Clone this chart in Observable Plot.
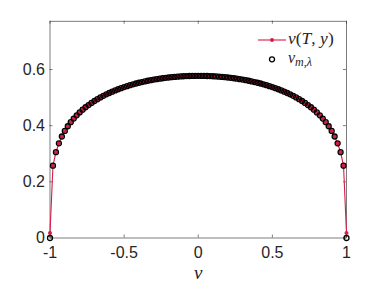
<!DOCTYPE html>
<html><head><meta charset="utf-8">
<script src="https://cdn.jsdelivr.net/npm/d3@7"></script>
<script src="https://cdn.jsdelivr.net/npm/@observablehq/plot@0.6"></script>
<style>html,body{margin:0;padding:0;background:#fff;} svg{display:block;}</style>
</head><body><div id="chart"></div>
<script>
// ---- data ----
const xs = [-1,-0.98,-0.96,-0.94,-0.92,-0.9,-0.88,-0.86,-0.84,-0.82,-0.8,-0.78,-0.76,-0.74,-0.72,-0.7,-0.68,-0.66,-0.64,-0.62,-0.6,-0.58,-0.56,-0.54,-0.52,-0.5,-0.48,-0.46,-0.44,-0.42,-0.4,-0.38,-0.36,-0.34,-0.32,-0.3,-0.28,-0.26,-0.24,-0.22,-0.2,-0.18,-0.16,-0.14,-0.12,-0.1,-0.08,-0.06,-0.04,-0.02,0,0.02,0.04,0.06,0.08,0.1,0.12,0.14,0.16,0.18,0.2,0.22,0.24,0.26,0.28,0.3,0.32,0.34,0.36,0.38,0.4,0.42,0.44,0.46,0.48,0.5,0.52,0.54,0.56,0.58,0.6,0.62,0.64,0.66,0.68,0.7,0.72,0.74,0.76,0.78,0.8,0.82,0.84,0.86,0.88,0.9,0.92,0.94,0.96,0.98,1];
const vTy = [0.018,0.2576,0.3055,0.3373,0.3615,0.3812,0.3979,0.4125,0.4253,0.4368,0.4473,0.4568,0.4655,0.4735,0.4810,0.4879,0.4944,0.5005,0.5061,0.5115,0.5164,0.5211,0.5256,0.5297,0.5336,0.5373,0.5408,0.5441,0.5472,0.5501,0.5528,0.5553,0.5577,0.5599,0.5620,0.5640,0.5657,0.5674,0.5689,0.5703,0.5715,0.5727,0.5737,0.5745,0.5753,0.5760,0.5765,0.5769,0.5772,0.5773,0.5774,0.5773,0.5772,0.5769,0.5765,0.5760,0.5753,0.5745,0.5737,0.5727,0.5715,0.5703,0.5689,0.5674,0.5657,0.5640,0.5620,0.5599,0.5577,0.5553,0.5528,0.5501,0.5472,0.5441,0.5408,0.5373,0.5336,0.5297,0.5256,0.5211,0.5164,0.5115,0.5061,0.5005,0.4944,0.4879,0.4810,0.4735,0.4655,0.4568,0.4473,0.4368,0.4253,0.4125,0.3979,0.3812,0.3615,0.3373,0.3055,0.2576,0.018];
const vML = [0,0.2576,0.3055,0.3373,0.3615,0.3812,0.3979,0.4125,0.4253,0.4368,0.4473,0.4568,0.4655,0.4735,0.4810,0.4879,0.4944,0.5005,0.5061,0.5115,0.5164,0.5211,0.5256,0.5297,0.5336,0.5373,0.5408,0.5441,0.5472,0.5501,0.5528,0.5553,0.5577,0.5599,0.5620,0.5640,0.5657,0.5674,0.5689,0.5703,0.5715,0.5727,0.5737,0.5745,0.5753,0.5760,0.5765,0.5769,0.5772,0.5773,0.5774,0.5773,0.5772,0.5769,0.5765,0.5760,0.5753,0.5745,0.5737,0.5727,0.5715,0.5703,0.5689,0.5674,0.5657,0.5640,0.5620,0.5599,0.5577,0.5553,0.5528,0.5501,0.5472,0.5441,0.5408,0.5373,0.5336,0.5297,0.5256,0.5211,0.5164,0.5115,0.5061,0.5005,0.4944,0.4879,0.4810,0.4735,0.4655,0.4568,0.4473,0.4368,0.4253,0.4125,0.3979,0.3812,0.3615,0.3373,0.3055,0.2576,0];
const xTicks = [-1,-0.5,0,0.5,1];
const xTickLabels = ["-1","-0.5","0","0.5","1"];
const yTicks = [0,0.2,0.4,0.6];
const yTickLabels = ["0","0.2","0.4","0.6"];
const xLabel = "v";
// legend entries as (text, italic) pieces
const legend1 = [["v",true],["(",false],["T",true],[", ",false],["y",true],[")",false]];
const legend2Main = "v";
const legend2Sub = [["m",true],[",",false],["λ",true]];

// ---- layout ----
const W = 382, H = 286, mL = 49.5, mR = 36, mT = 20.7, mB = 48.5;
const fw = W - mL - mR, fh = H - mT - mB;
const red = "#d81b45";
const ink = "#262626";
const sans = "'Liberation Sans', Arial, Helvetica, sans-serif";
const serif = "'Liberation Serif', 'Times New Roman', serif";
const tk = 3;

const data = xs.map((x, i) => ({x, v: vTy[i], vm: vML[i]}));

const plot = Plot.plot({
  width: W, height: H,
  marginLeft: mL, marginRight: mR, marginTop: mT, marginBottom: mB,
  x: {domain: [-1, 1]},
  y: {domain: [0, 0.772]},
  style: {background: "white", color: ink, fontFamily: sans},
  marks: [
    Plot.frame({stroke: ink, strokeWidth: 0.6}),
    Plot.tickX(xTicks, {x: d => d, insetTop: fh - tk, stroke: ink, strokeWidth: 0.6}),
    Plot.tickX(xTicks, {x: d => d, insetBottom: fh - tk, stroke: ink, strokeWidth: 0.6}),
    Plot.tickY(yTicks, {y: d => d, insetRight: fw - tk, stroke: ink, strokeWidth: 0.6}),
    Plot.tickY(yTicks, {y: d => d, insetLeft: fw - tk, stroke: ink, strokeWidth: 0.6}),
    Plot.axisX(xTicks, {tickSize: 0, tickPadding: 9, fontSize: 16, label: null,
      tickFormat: d => xTickLabels[xTicks.indexOf(d)]}),
    Plot.axisY(yTicks, {tickSize: 0, tickPadding: 5, fontSize: 16, label: null,
      tickFormat: d => yTickLabels[yTicks.indexOf(d)]}),
    Plot.text([xLabel], {text: d => d, frameAnchor: "bottom", dy: 34.5, fontStyle: "italic",
      fontFamily: serif, fontSize: 19, lineAnchor: "middle", fill: ink}),
    Plot.line(data, {x: "x", y: "v", stroke: red, strokeWidth: 1.1}),
    Plot.dot(data, {x: "x", y: "v", r: 2, fill: red}),
    Plot.dot(data, {x: "x", y: "vm", r: 2.5, fill: "none", stroke: "black", strokeWidth: 1.3})
  ]
});

// ---- legend (inside the axes, top right) ----
const svg = d3.select(plot);
const g = svg.append("g").attr("text-anchor", "start");
const right = W - mR;
const lx0 = right - 88, lx1 = right - 60, lcx = (lx0 + lx1) / 2;
const row1 = 40, row2 = 59.3;
g.append("line").attr("x1", lx0).attr("x2", lx1).attr("y1", row1).attr("y2", row1)
  .attr("stroke", red).attr("stroke-width", 1.1);
g.append("circle").attr("cx", lcx).attr("cy", row1).attr("r", 2).attr("fill", red);
g.append("circle").attr("cx", lcx).attr("cy", row2).attr("r", 2.5).attr("fill", "none")
  .attr("stroke", "black").attr("stroke-width", 1.3);
const t1 = g.append("text").attr("x", right - 58).attr("y", 44.3).attr("text-anchor", "start")
  .attr("font-family", serif).attr("font-size", 17.5).attr("fill", ink);
legend1.forEach(([s, it]) => t1.append("tspan").attr("font-style", it ? "italic" : "normal").text(s));
const t2 = g.append("text").attr("x", right - 58).attr("y", 63.2).attr("text-anchor", "start")
  .attr("font-family", serif).attr("font-size", 16).attr("fill", ink);
t2.append("tspan").attr("font-style", "italic").text(legend2Main);
legend2Sub.forEach(([s, it], i) => {
  const ts = t2.append("tspan").attr("font-size", 12).attr("font-style", it ? "italic" : "normal").text(s);
  if (i === 0) ts.attr("dy", 3);
});

document.getElementById("chart").appendChild(plot);
</script>
</body></html>
